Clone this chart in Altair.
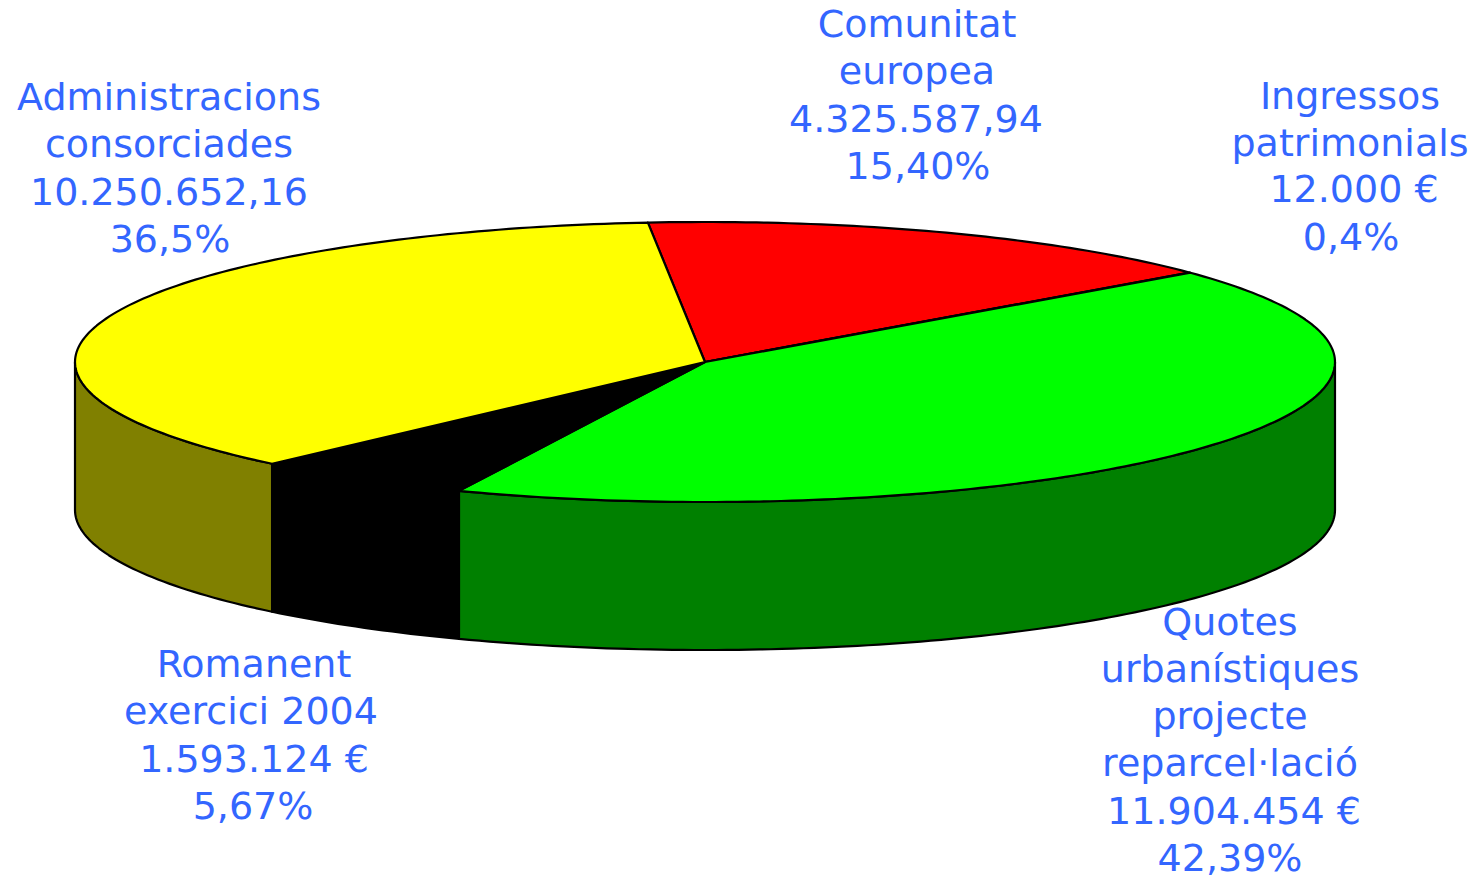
import math
import altair as alt
import pandas as pd

# slices, clockwise from the start angle
names = ["Comunitat europea", "Ingressos patrimonials", "Quotes urbanístiques", "Romanent", "Administracions consorciades"]
amounts = [4325587.94, 12000, 11904454, 1593124, 10250652.16]
top_colors = ["#FF0000", "#00FF00", "#00FF00", "#000000", "#FFFF00"]
side_colors = ["#800000", "#008000", "#008000", "#000000", "#808000"]

# pie geometry (in the chart's own pixel-like units)
cx, cy, rx, ry, depth = 705, 362, 630, 140, 148
start_deg = 95.2

label_text = ["Comunitat", "europea", "4.325.587,94", "15,40%",
              "Ingressos", "patrimonials", "12.000 €", "0,4%",
              "Administracions", "consorciades", "10.250.652,16", "36,5%",
              "Romanent", "exercici 2004", "1.593.124 €", "5,67%",
              "Quotes", "urbanístiques", "projecte", "reparcel·lació", "11.904.454 €", "42,39%"]
label_x = [917, 917, 916, 918,
           1350, 1350, 1354, 1351,
           169, 169, 169, 170,
           254, 251, 254, 253,
           1230, 1230, 1230, 1230, 1234, 1230]
label_y = [37, 84, 132, 179,
           109, 156, 202, 250,
           110, 157, 205, 252,
           677, 724, 772, 819,
           635, 682, 729, 776, 824, 871]

total = sum(amounts)
W, H = 1461, 867
sx = alt.Scale(domain=[8, 8 + W], range=[0, W], zero=False, nice=False)
sy = alt.Scale(domain=[8 + H, 8], range=[H, 0], zero=False, nice=False)


def ell(deg, dy=0):
    t = math.radians(deg)
    return cx + rx * math.cos(t), cy - ry * math.sin(t) + dy


def arc_pts(a0, a1, dy=0):
    n = max(2, int(abs(a1 - a0)) + 1)
    return [ell(a0 + (a1 - a0) * k / n, dy) for k in range(n + 1)]


def poly(points, fill, sw=2.2):
    df = pd.DataFrame({"x": [p[0] for p in points], "y": [p[1] for p in points], "i": range(len(points))})
    return alt.Chart(df).mark_line(fill=fill, stroke="#000000", strokeWidth=sw, strokeJoin="round").encode(
        x=alt.X("x:Q", scale=sx, axis=None),
        y=alt.Y("y:Q", scale=sy, axis=None),
        order="i:Q",
    )


walls, tops = [], []
a = start_deg
for amt, tc, sc in zip(amounts, top_colors, side_colors):
    b = a - amt / total * 360
    # the front wall is visible only where the arc runs between 0 and -180 degrees
    f0, f1 = min(a, 0), max(b, -180)
    if f0 > f1:
        wall = arc_pts(f0, f1) + arc_pts(f1, f0, depth)
        wall.append(wall[0])
        walls.append(poly(wall, sc))
    tops.append(poly([(cx, cy)] + arc_pts(a, b) + [(cx, cy)], tc))
    a = b

labels = pd.DataFrame({"t": label_text, "x": label_x, "y": label_y})
text = alt.Chart(labels).mark_text(
    font="DejaVu Sans", fontSize=38, color="#3366FF", align="center", baseline="alphabetic"
).encode(
    x=alt.X("x:Q", scale=sx, axis=None),
    y=alt.Y("y:Q", scale=sy, axis=None),
    text="t:N",
)

chart = alt.layer(*walls, *tops, text).properties(
    width=W, height=H, padding=0, autosize=alt.AutoSizeParams(type="none"),
    background="#FFFFFF",
).configure_view(stroke=None)

chart.save("out.html", embed_options={"renderer": "svg", "actions": False})
